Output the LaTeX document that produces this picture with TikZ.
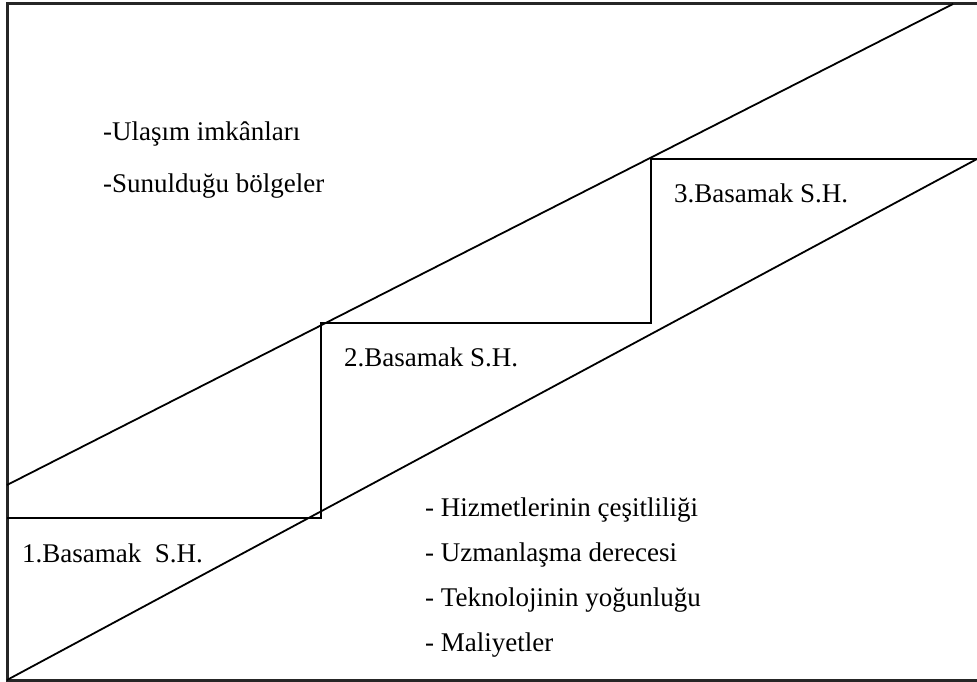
\documentclass[tikz,border=0pt]{standalone}
\usepackage{fontspec}
\setmainfont{Liberation Serif}
\begin{document}
\begin{tikzpicture}[x=1pt,y=-1pt,
  frame/.style={line width=3pt,black!85},
  edge/.style={line width=1.8pt,black},
  lbl/.style={anchor=base west,inner sep=0pt,font=\fontsize{27}{32}\selectfont}]
\useasboundingbox (0,0) rectangle (977,682);
\clip (0,0) rectangle (977,682);
% outer frame
\draw[frame] (7,4) rectangle (985,680);
% corner points of the band and the staircase
\coordinate (uL) at (7,485);
\coordinate (uR) at (953,4);
\coordinate (lL) at (7,680);
\coordinate (lR) at (977,159);
\coordinate (s0) at (7,518);
\coordinate (s1) at (321,518);
\coordinate (s2) at (321,323);
\coordinate (s3) at (651,323);
\coordinate (s4) at (651,159);
\coordinate (s5) at (977,159);
% band edges
\draw[edge] (uL) -- (uR);
\draw[edge] (lL) -- (lR);
% staircase
\draw[edge] (s0) -- (s1) -- (s2) -- (s3) -- (s4) -- (s5);
% labels
\node[lbl] (t1) at (103,141) {-Ulaşım imkânları};
\node[lbl] (t2) at (103,192) {-Sunulduğu bölgeler};
\node[lbl] (b3) at (674,202) {3.Basamak S.H.};
\node[lbl] (b2) at (344,366) {2.Basamak S.H.};
\node[lbl] (b1) at (22,562) {1.Basamak\ \ S.H.};
\node[lbl] (h1) at (425,516) {- Hizmetlerinin çeşitliliği};
\node[lbl] (h2) at (425,561) {- Uzmanlaşma derecesi};
\node[lbl] (h3) at (425,606) {- Teknolojinin yoğunluğu};
\node[lbl] (h4) at (425,651) {- Maliyetler};
\end{tikzpicture}
\end{document}
